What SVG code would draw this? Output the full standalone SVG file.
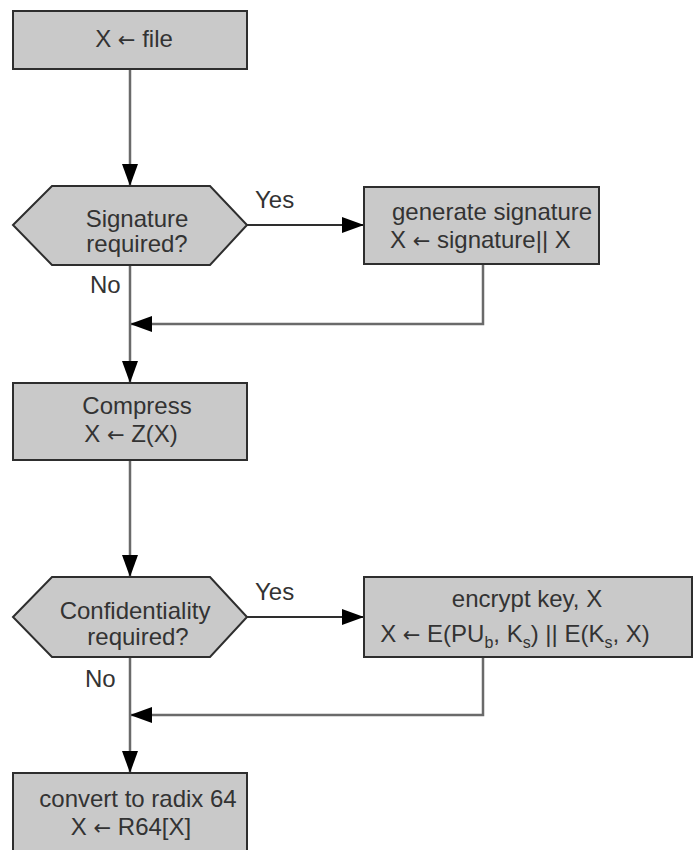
<svg xmlns="http://www.w3.org/2000/svg" width="694" height="850" viewBox="0 0 694 850">
<style>
  .node { fill: #c9c9c9; stroke: #2e2e2e; stroke-width: 2; }
  .t { font-family: "Liberation Sans", Arial, sans-serif; font-size: 24px; fill: #333333; }
  .m { text-anchor: middle; }
  .sub { font-size: 16px; }
  .ar { font-family: "DejaVu Sans", sans-serif; font-size: 21px; }
  .conn { fill: none; stroke: #6a6a6a; stroke-width: 2.5; }
  .yes { fill: none; stroke: #2e2e2e; stroke-width: 2; }
</style>
<defs>
  <marker id="arr" viewBox="0 0 22 16" refX="22" refY="8" markerWidth="22" markerHeight="16" markerUnits="userSpaceOnUse" orient="auto">
    <path d="M0,0 L22,8 L0,16 z" fill="#000000"/>
  </marker>
</defs>
<rect width="694" height="850" fill="#ffffff"/>
<g id="connectors">
  <path class="conn" d="M130,69 L130,186" marker-end="url(#arr)"/>
  <path class="yes" d="M247,225 L364,225" marker-end="url(#arr)"/>
  <path class="conn" d="M483,264 L483,324 L130,324" marker-end="url(#arr)"/>
  <path class="conn" d="M130,265 L130,383" marker-end="url(#arr)"/>
  <path class="conn" d="M130,460 L130,577" marker-end="url(#arr)"/>
  <path class="yes" d="M247,617 L364,617" marker-end="url(#arr)"/>
  <path class="conn" d="M483,657 L483,715 L130,715" marker-end="url(#arr)"/>
  <path class="conn" d="M130,657 L130,773" marker-end="url(#arr)"/>
  <text class="t" x="255" y="208">Yes</text>
  <text class="t" x="90" y="293">No</text>
  <text class="t" x="255" y="600">Yes</text>
  <text class="t" x="85" y="687">No</text>
</g>
<g id="n-file">
  <rect class="node" x="13" y="11" width="234" height="58"/>
  <text class="t m" x="134" y="47">X <tspan class="ar">←</tspan> file</text>
</g>
<g id="n-sigq">
  <polygon class="node" points="13,225 52,186 210,186 247,225 210,265 52,265"/>
  <text class="t m" x="137" y="227">Signature</text>
  <text class="t m" x="137" y="252">required?</text>
</g>
<g id="n-gensig">
  <rect class="node" x="364" y="187" width="235" height="77"/>
  <text class="t" x="392" y="220">generate signature</text>
  <text class="t" x="390" y="248">X <tspan class="ar">←</tspan> signature|| X</text>
</g>
<g id="n-compress">
  <rect class="node" x="13" y="383" width="234" height="77"/>
  <text class="t m" x="137" y="414">Compress</text>
  <text class="t m" x="131" y="442">X <tspan class="ar">←</tspan> Z(X)</text>
</g>
<g id="n-confq">
  <polygon class="node" points="13,617 52,577 210,577 247,617 210,657 52,657"/>
  <text class="t m" x="135" y="619">Confidentiality</text>
  <text class="t m" x="138" y="645">required?</text>
</g>
<g id="n-encrypt">
  <rect class="node" x="364" y="577" width="328" height="80"/>
  <text class="t m" x="527" y="607">encrypt key, X</text>
  <text class="t m" x="515" y="642">X <tspan class="ar">←</tspan> E(PU<tspan class="sub" dy="6">b</tspan><tspan dy="-6">, K</tspan><tspan class="sub" dy="6">s</tspan><tspan dy="-6">) || E(K</tspan><tspan class="sub" dy="6">s</tspan><tspan dy="-6">, X)</tspan></text>
</g>
<g id="n-radix">
  <rect class="node" x="13" y="773" width="234" height="84"/>
  <text class="t m" x="138" y="807">convert to radix 64</text>
  <text class="t m" x="131" y="835">X <tspan class="ar">←</tspan> R64[X]</text>
</g>
</svg>
